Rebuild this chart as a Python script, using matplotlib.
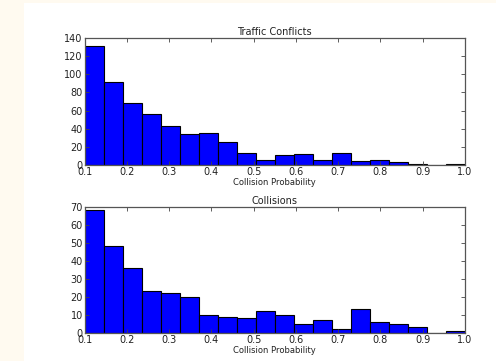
import matplotlib
matplotlib.use("Agg")
import matplotlib.pyplot as plt
import numpy as np
from matplotlib.patches import Rectangle

# histogram bins: 20 equal bins between 0.1 and 1.0
BIN_START = 0.1
BIN_END = 1.0
N_BINS = 20

conflict_counts = [131, 91, 68, 56, 43, 34, 35, 25, 13, 5,
                   11, 12, 5, 13, 4, 5, 3, 1, 0, 1]
collision_counts = [68, 48, 36, 23, 22, 20, 10, 9, 8, 12,
                    10, 5, 7, 2, 13, 6, 5, 3, 0, 1]

titles = ["Traffic Conflicts", "Collisions"]
xlabel = "Collision Probability"
xticks = [0.1, 0.2, 0.3, 0.4, 0.5, 0.6, 0.7, 0.8, 0.9, 1.0]
yticks_top = [0, 20, 40, 60, 80, 100, 120, 140]
yticks_bottom = [0, 10, 20, 30, 40, 50, 60, 70]


def style_axes(ax, yticks, title):
    ax.set_xlim(BIN_START, BIN_END)
    ax.set_ylim(yticks[0], yticks[-1])
    ax.set_xticks(xticks)
    ax.set_xticklabels([f"{t:.1f}" for t in xticks])
    ax.set_yticks(yticks)
    ax.tick_params(direction="in", top=True, right=True, length=3,
                   width=0.6, color="#444444", labelsize=7, pad=1.5,
                   labelcolor="#222222")
    for sp in ax.spines.values():
        sp.set_color("#555555")
        sp.set_linewidth(0.9)
    ax.set_xlabel(xlabel, fontsize=6, labelpad=0.5, color="#222222")
    ax.set_title(title, fontsize=7, pad=2, color="#222222")


edges = np.linspace(BIN_START, BIN_END, N_BINS + 1)

fig = plt.figure(figsize=(4.96, 3.61), dpi=100, facecolor="#FFFAF0")
# white canvas area of the screenshot
fig.patches.append(Rectangle((24 / 496, 0), 1 - 24 / 496, 1 - 3 / 361,
                             transform=fig.transFigure, facecolor="white",
                             edgecolor="none", zorder=-10))

ax_top = fig.add_axes([0.171, 0.543, 0.766, 0.352])
ax_bot = fig.add_axes([0.171, 0.078, 0.766, 0.349])

for ax, counts, yt, title in [(ax_top, conflict_counts, yticks_top, titles[0]),
                              (ax_bot, collision_counts, yticks_bottom, titles[1])]:
    ax.bar(edges[:-1], counts, width=np.diff(edges), align="edge",
           color="#0000FF", edgecolor="black", linewidth=0.8)
    style_axes(ax, yt, title)

fig.savefig("out.png", dpi=100, facecolor=fig.get_facecolor())
